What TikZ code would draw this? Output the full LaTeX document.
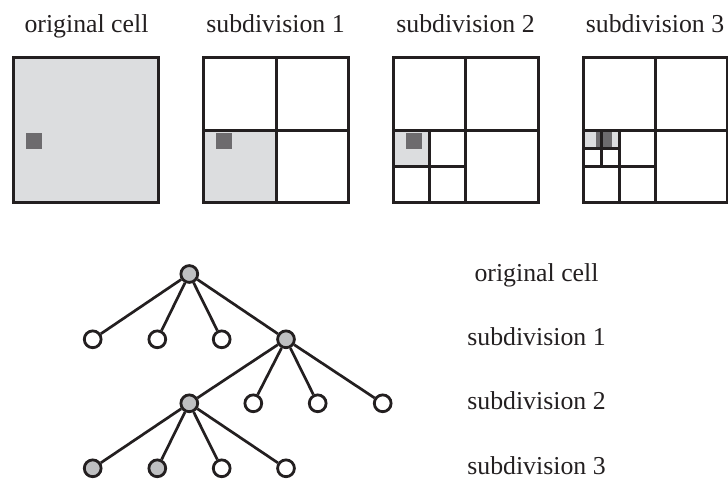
\documentclass[tikz,border=0pt]{standalone}
\usepackage{fontspec}
\setmainfont{Liberation Serif}
\definecolor{ink}{HTML}{231F20}
\definecolor{lightfill}{HTML}{DCDDDF}
\definecolor{darkfill}{HTML}{6D6B6E}
\definecolor{nodefill}{HTML}{BEBFC1}
\begin{document}
\begin{tikzpicture}[x=1pt,y=-1pt,
  grid/.style={draw=ink,line width=3pt,line cap=rect},
  lbl/.style={anchor=base,inner sep=0pt,font=\fontsize{25.8}{30}\selectfont,text=ink},
  tn/.style={circle,draw=ink,line width=2.8pt,fill=white,minimum size=16.8pt,inner sep=0pt},
  tg/.style={tn,fill=nodefill},
  edge/.style={draw=ink,line width=2.7pt}]
\useasboundingbox (0,0) rectangle (728,481);
% top labels
\node[lbl] (t1) at (86.5,33) {original cell};
\node[lbl] (t2) at (275.5,33) {subdivision 1};
\node[lbl] (t3) at (465.5,33) {subdivision 2};
\node[lbl] (t4) at (655,33) {subdivision 3};
% square 1
\fill[lightfill] (13,58) rectangle (158.5,203);
\fill[darkfill] (26,133) rectangle (42,149);
\draw[grid] (13,58) rectangle (158.5,203);
% square 2
\fill[lightfill] (203,130.5) rectangle (276,203);
\fill[darkfill] (216,133) rectangle (232,149);
\draw[grid] (203,58) rectangle (348.5,203);
\draw[grid] (276,58) -- (276,203);
\draw[grid] (203,130.5) -- (348.5,130.5);
% square 3
\fill[lightfill] (393,130.5) rectangle (429.5,166.75);
\fill[darkfill] (406,133) rectangle (422,149);
\draw[grid] (393,58) rectangle (538,203);
\draw[grid] (465.5,58) -- (465.5,203);
\draw[grid] (393,130.5) -- (538,130.5);
\draw[grid] (429.5,130.5) -- (429.5,203);
\draw[grid] (393,166.75) -- (465.5,166.75);
% square 4
\fill[lightfill] (583,130.5) rectangle (619.3,148.6);
\fill[darkfill] (596,132) rectangle (612,148.5);
\draw[grid] (583,58) rectangle (727.5,203);
\draw[grid] (655.3,58) -- (655.3,203);
\draw[grid] (583,130.5) -- (727.5,130.5);
\draw[grid] (619.3,130.5) -- (619.3,203);
\draw[grid] (583,166.75) -- (655.3,166.75);
\draw[grid] (601.2,130.5) -- (601.2,166.75);
\draw[grid] (583,148.6) -- (619.3,148.6);
% tree nodes
\node[tg] (r) at (189.3,274) {};
\node[tn] (a1) at (92.7,339.3) {};
\node[tn] (a2) at (157.3,339.3) {};
\node[tn] (a3) at (221.7,339.3) {};
\node[tg] (a4) at (286,339.3) {};
\node[tg] (b1) at (189.3,403.3) {};
\node[tn] (b2) at (253.3,403.3) {};
\node[tn] (b3) at (317.7,403.3) {};
\node[tn] (b4) at (382.7,403.3) {};
\node[tg] (c1) at (92.7,468.3) {};
\node[tg] (c2) at (157.3,468.3) {};
\node[tn] (c3) at (221.7,468.3) {};
\node[tn] (c4) at (286,468.3) {};
\foreach \c in {a1,a2,a3,a4} \draw[edge] (r) -- (\c);
\foreach \c in {b1,b2,b3,b4} \draw[edge] (a4) -- (\c);
\foreach \c in {c1,c2,c3,c4} \draw[edge] (b1) -- (\c);
% right labels
\node[lbl] (l0) at (536.5,281.7) {original cell};
\node[lbl] (l1) at (536.5,345.5) {subdivision 1};
\node[lbl] (l2) at (536.5,409.5) {subdivision 2};
\node[lbl] (l3) at (536.5,474) {subdivision 3};
\end{tikzpicture}
\end{document}
